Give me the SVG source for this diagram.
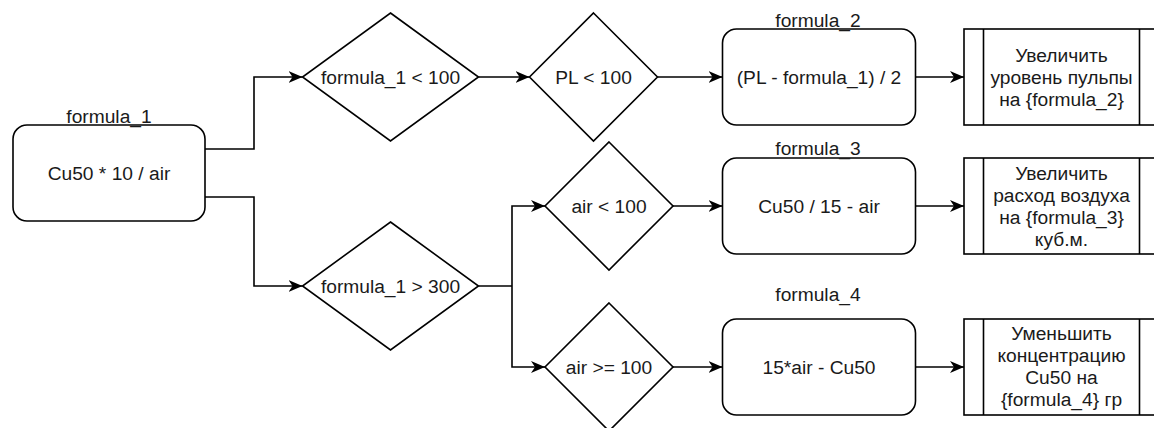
<svg xmlns="http://www.w3.org/2000/svg" width="1154" height="428" viewBox="0 0 1154 428">
  <defs>
    <marker id="arrow" markerUnits="userSpaceOnUse" viewBox="0 0 14 12" refX="14" refY="6" markerWidth="14" markerHeight="12" orient="auto">
      <path d="M0,0 L14,6 L0,12 L4,6 Z" fill="#000"/>
    </marker>
  </defs>
  <style>
    .shape { fill: #fff; stroke: #000; stroke-width: 1.6; }
    .edge { fill: none; stroke: #000; stroke-width: 1.6; marker-end: url(#arrow); }
    .line { fill: none; stroke: #000; stroke-width: 1.6; }
    text { font-family: "Liberation Sans", Arial, Helvetica, sans-serif; font-size: 19.2px; fill: #1a1a1a; text-anchor: middle; }
  </style>
  <rect width="1154" height="428" fill="#fff"/>

  <!-- connectors -->
  <g id="connectors">
    <path class="edge" d="M205,149 H254 V77 H302.5"/>
    <path class="edge" d="M205,197 H254 V286 H302.5"/>
    <path class="edge" d="M478.5,77 H529.5"/>
    <path class="edge" d="M657.5,77 H722.5"/>
    <path class="edge" d="M915.5,77 H964"/>
    <path class="line" d="M478.5,286 H512"/>
    <path class="edge" d="M512,286 V206 H545"/>
    <path class="edge" d="M512,286 V367 H545"/>
    <path class="edge" d="M673,206 H722.5"/>
    <path class="edge" d="M915.5,206 H964"/>
    <path class="edge" d="M673,367 H722.5"/>
    <path class="edge" d="M915.5,367 H964"/>
  </g>

  <!-- formula_1 -->
  <g id="formula1">
    <rect class="shape" x="13" y="125" width="192" height="96" rx="14"/>
    <text x="109" y="180">Cu50 * 10 / air</text>
    <text x="109" y="123">formula_1</text>
  </g>

  <!-- decisions -->
  <g id="cond-lt100">
    <polygon class="shape" points="390.5,13 478.5,77 390.5,141 302.5,77"/>
    <text x="390.5" y="84">formula_1 &lt; 100</text>
  </g>
  <g id="cond-gt300">
    <polygon class="shape" points="390.5,222 478.5,286 390.5,350 302.5,286"/>
    <text x="390.5" y="293">formula_1 &gt; 300</text>
  </g>
  <g id="cond-pl">
    <polygon class="shape" points="593.5,13 657.5,77 593.5,141 529.5,77"/>
    <text x="593.5" y="84">PL &lt; 100</text>
  </g>
  <g id="cond-air-lt">
    <polygon class="shape" points="609,142 673,206 609,270 545,206"/>
    <text x="609" y="213">air &lt; 100</text>
  </g>
  <g id="cond-air-ge">
    <polygon class="shape" points="609,303 673,367 609,431 545,367"/>
    <text x="609" y="374">air &gt;= 100</text>
  </g>

  <!-- formulas -->
  <g id="formula2">
    <rect class="shape" x="722.5" y="29" width="193" height="96" rx="14"/>
    <text x="819" y="84">(PL - formula_1) / 2</text>
    <text x="818" y="27">formula_2</text>
  </g>
  <g id="formula3">
    <rect class="shape" x="722.5" y="158" width="193" height="96" rx="14"/>
    <text x="819" y="213">Cu50 / 15 - air</text>
    <text x="818" y="155">formula_3</text>
  </g>
  <g id="formula4">
    <rect class="shape" x="722.5" y="319" width="193" height="96" rx="14"/>
    <text x="819" y="374">15*air - Cu50</text>
    <text x="818" y="301">formula_4</text>
  </g>

  <!-- actions -->
  <g id="action-pulp">
    <rect class="shape" x="964" y="29" width="195" height="96"/>
    <path class="line" d="M983.5,29 V125 M1139.5,29 V125"/>
    <text x="1061.5" y="62">Увеличить</text>
    <text x="1061.5" y="84">уровень пульпы</text>
    <text x="1061.5" y="106">на {formula_2}</text>
  </g>
  <g id="action-air">
    <rect class="shape" x="964" y="158" width="195" height="96"/>
    <path class="line" d="M983.5,158 V254 M1139.5,158 V254"/>
    <text x="1061.5" y="180">Увеличить</text>
    <text x="1061.5" y="202">расход воздуха</text>
    <text x="1061.5" y="224">на {formula_3}</text>
    <text x="1061.5" y="246">куб.м.</text>
  </g>
  <g id="action-cu">
    <rect class="shape" x="964" y="319" width="195" height="96"/>
    <path class="line" d="M983.5,319 V415 M1139.5,319 V415"/>
    <text x="1061.5" y="340">Уменьшить</text>
    <text x="1061.5" y="362">концентрацию</text>
    <text x="1061.5" y="384">Cu50 на</text>
    <text x="1061.5" y="406">{formula_4} гр</text>
  </g>
</svg>
